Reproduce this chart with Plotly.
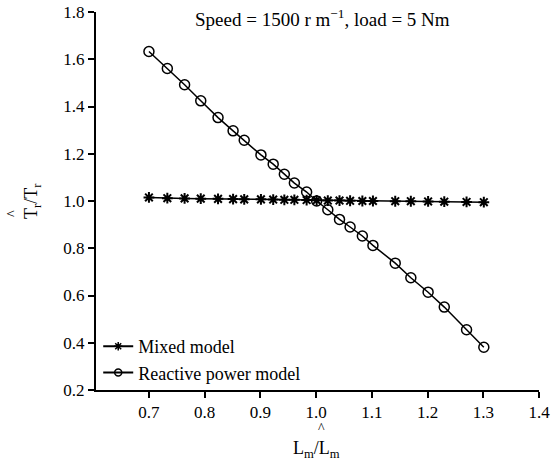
import plotly.graph_objects as go

x_vals = [0.70, 0.733, 0.764, 0.793, 0.824, 0.851, 0.871, 0.901, 0.923, 0.943, 0.961, 0.983,
          1.001, 1.021, 1.042, 1.061, 1.083, 1.102, 1.142, 1.170, 1.201, 1.230, 1.270, 1.301]
reactive = [1.633, 1.561, 1.492, 1.424, 1.353, 1.297, 1.257, 1.195, 1.156, 1.113, 1.076, 1.038,
            1.000, 0.963, 0.922, 0.890, 0.852, 0.812, 0.737, 0.675, 0.614, 0.551, 0.455, 0.381]
mixed = [1.015, 1.012, 1.011, 1.010, 1.009, 1.008, 1.007, 1.007, 1.006, 1.005, 1.005, 1.004,
         1.003, 1.002, 1.002, 1.001, 1.000, 1.000, 0.999, 0.999, 0.998, 0.997, 0.996, 0.995]
y_ticks = [0.2, 0.4, 0.6, 0.8, 1.0, 1.2, 1.4, 1.6, 1.8]
x_ticks = [0.7, 0.8, 0.9, 1.0, 1.1, 1.2, 1.3, 1.4]
series_names = ["Mixed model", "Reactive power model"]

FONT = "Liberation Serif, Times New Roman, serif"
L, R, T, B = 96, 19, 12, 72
PW, PH = 558 - L - R, 462 - T - B


def px_x(px):
    return (px - L) / PW


def px_y(py):
    return (462 - B - py) / PH


fig = go.Figure()
styles = [
    dict(symbol="asterisk-open", size=9, lw=2, leg_size=7),
    dict(symbol="circle-open", size=10, lw=1.5, leg_size=7),
]
for name, ys, st in zip(series_names, [mixed, reactive], styles):
    fig.add_trace(go.Scatter(x=x_vals, y=ys, mode="lines+markers", name=name, showlegend=False,
                             line=dict(color="black", width=1.5),
                             marker=dict(symbol=st["symbol"], size=st["size"], color="black",
                                         line=dict(color="black", width=st["lw"]))))
    fig.add_trace(go.Scatter(x=[None], y=[None], mode="lines+markers", name=name,
                             line=dict(color="black", width=2),
                             marker=dict(symbol=st["symbol"], size=st["leg_size"], color="black",
                                         line=dict(color="black", width=1.5))))

axis_common = dict(showline=True, linecolor="black", linewidth=2,
                   ticks="outside", ticklen=6, tickwidth=2, tickcolor="black",
                   showgrid=False, zeroline=False, automargin=False,
                   tickfont=dict(size=17, color="black"))

fig.update_layout(
    width=558, height=462,
    margin=dict(l=L, r=R, t=T, b=B),
    paper_bgcolor="white", plot_bgcolor="white",
    font=dict(family=FONT, size=17, color="black"),
    showlegend=True,
    legend=dict(x=0.005, y=px_y(391), xanchor="left", yanchor="bottom",
                bgcolor="rgba(0,0,0,0)", font=dict(size=18, color="black"), tracegroupgap=0,
                itemwidth=30),
    xaxis=dict(range=[0.605, 1.4], tickvals=x_ticks, tickformat=".1f", **axis_common),
    yaxis=dict(range=[0.2, 1.8], tickvals=y_ticks, tickformat=".1f", **axis_common),
    annotations=[
        dict(text="Speed = 1500 r m<sup>\u22121</sup>, load = 5 Nm", x=px_x(322), y=px_y(18),
             xref="paper", yref="paper", xanchor="center", yanchor="middle",
             showarrow=False, font=dict(size=19, color="black")),
        dict(text="T<sub>r</sub>/T<sub>r</sub>", x=px_x(32), y=px_y(201),
             xref="paper", yref="paper", xanchor="center", yanchor="middle",
             textangle=-90, showarrow=False, font=dict(size=18, color="black")),
        dict(text="^", x=px_x(12), y=px_y(214),
             xref="paper", yref="paper", xanchor="center", yanchor="middle",
             textangle=-90, showarrow=False, font=dict(size=14, color="black")),
        dict(text="L<sub>m</sub>/L<sub>m</sub>", x=px_x(316), y=px_y(449),
             xref="paper", yref="paper", xanchor="center", yanchor="middle",
             showarrow=False, font=dict(size=18, color="black")),
        dict(text="^", x=px_x(321), y=px_y(428),
             xref="paper", yref="paper", xanchor="center", yanchor="middle",
             showarrow=False, font=dict(size=14, color="black")),
    ],
)

fig.write_html("out.html")
